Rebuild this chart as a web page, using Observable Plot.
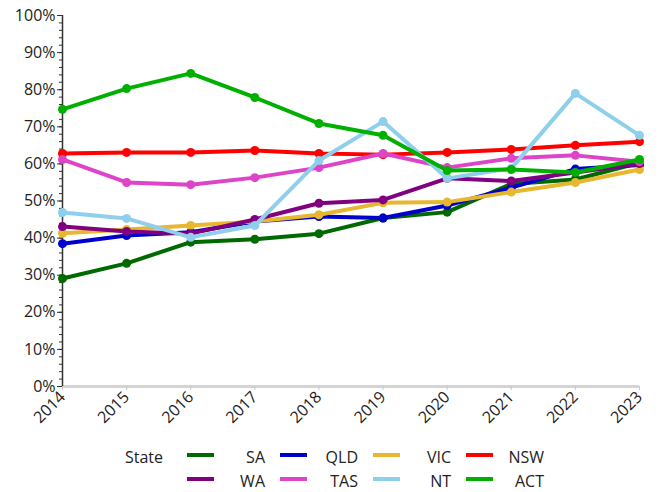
<!DOCTYPE html>
<html>
<head>
<meta charset="utf-8">
<script src="https://cdn.jsdelivr.net/npm/d3@7"></script>
<script src="https://cdn.jsdelivr.net/npm/@observablehq/plot@0.6"></script>
<style>
  html, body { margin: 0; padding: 0; background: #fff; }
  #wrap { position: relative; width: 662px; height: 492px; font-family: "Open Sans", sans-serif; color: #222; }
  #legend { position: absolute; left: 0; top: 0; width: 662px; height: 492px; pointer-events: none; }
  .lg-title { position: absolute; font-size: 16px; line-height: 20px; }
  .lg-sw { position: absolute; width: 27px; height: 4px; }
  .lg-lab { position: absolute; font-size: 16px; line-height: 20px; text-align: right; width: 50px; }
</style>
</head>
<body>
<div id="wrap"><div id="chart"></div><div id="legend"></div></div>
<script>
const years = [2014, 2015, 2016, 2017, 2018, 2019, 2020, 2021, 2022, 2023];
const states = ["SA", "QLD", "VIC", "NSW", "WA", "TAS", "NT", "ACT"];
const colors = ["#006a00", "#0000cc", "#e8b730", "#ff0000", "#800080", "#dd44c8", "#8ecfec", "#00b000"];
const SA  = [29.1, 33.2, 38.9, 39.7, 41.2, 45.4, 47.0, 54.6, 55.8, 60.3];
const QLD = [38.5, 40.7, 41.6, 44.5, 45.8, 45.4, 48.8, 53.6, 58.6, 59.7];
const VIC = [41.3, 42.3, 43.4, 44.5, 46.3, 49.5, 49.7, 52.4, 55.0, 58.5];
const NSW = [62.8, 63.1, 63.1, 63.6, 62.8, 62.5, 63.1, 63.9, 65.0, 66.0];
const WA  = [43.1, 41.8, 41.2, 45.0, 49.4, 50.3, 56.1, 55.4, 57.7, 60.1];
const TAS = [61.2, 55.0, 54.4, 56.3, 59.0, 62.8, 59.0, 61.5, 62.3, 60.6];
const NT  = [46.9, 45.3, 40.2, 43.4, 60.9, 71.4, 56.1, 58.8, 79.0, 67.7];
const ACT = [74.7, 80.3, 84.4, 77.9, 70.9, 67.7, 58.2, 58.5, 57.7, 61.2];
const series = {SA, QLD, VIC, NSW, WA, TAS, NT, ACT};
const yTicks = [0, 10, 20, 30, 40, 50, 60, 70, 80, 90, 100];
const legendRows = [["SA", "QLD", "VIC", "NSW"], ["WA", "TAS", "NT", "ACT"]];

const data = states.flatMap(s => years.map((y, i) => ({state: s, year: y, value: series[s][i]})));

const font = "\"Open Sans\", sans-serif";
const chart = Plot.plot({
  width: 662,
  height: 435,
  marginTop: 15,
  marginBottom: 49,
  marginLeft: 62,
  marginRight: 23,
  style: {fontFamily: font, fontSize: "16px", color: "#222", background: "#fff"},
  x: {domain: [2014, 2023]},
  y: {domain: [0, 100]},
  color: {domain: states, range: colors},
  marks: [
    Plot.ruleY([0], {stroke: "#d4d4d4", strokeWidth: 3}),
    Plot.axisX({ticks: years, tickFormat: "d", tickRotate: -45, textAnchor: "end", stroke: "#c8c8c8", tickSize: 4, tickPadding: 4, fontSize: 16, fill: "#222", label: null}),
    Plot.axisY({ticks: d3.range(0, 101, 2), tickSize: 3, text: null, stroke: "#333", label: null}),
    Plot.axisY({ticks: yTicks, tickSize: 5, tickFormat: d => d + "%", tickPadding: 2, stroke: "#333", fontSize: 16, fill: "#222", label: null}),
    Plot.ruleX([2014], {stroke: "#333", strokeWidth: 1.5}),
    ...states.flatMap(s => [
      Plot.line(data.filter(d => d.state === s), {x: "year", y: "value", stroke: "state", strokeWidth: 4}),
      Plot.dot(data.filter(d => d.state === s), {x: "year", y: "value", fill: "state", r: 4.5})
    ])
  ]
});
document.getElementById("chart").appendChild(chart);

// legend
const lg = document.getElementById("legend");
const t = document.createElement("div");
t.className = "lg-title"; t.textContent = "State";
t.style.left = "125px"; t.style.top = "447px";
lg.appendChild(t);
const colOf = s => colors[states.indexOf(s)];
legendRows.forEach((row, r) => {
  row.forEach((s, c) => {
    const x0 = 187 + c * 93;
    const yc = 455 + r * 24;
    const sw = document.createElement("div");
    sw.className = "lg-sw"; sw.style.background = colOf(s);
    sw.style.left = x0 + "px"; sw.style.top = (yc - 2) + "px";
    lg.appendChild(sw);
    const lab = document.createElement("div");
    lab.className = "lg-lab"; lab.textContent = s;
    lab.style.left = (x0 + 78 - 50) + "px"; lab.style.top = (yc - 8) + "px";
    lg.appendChild(lab);
  });
});
</script>
</body>
</html>
